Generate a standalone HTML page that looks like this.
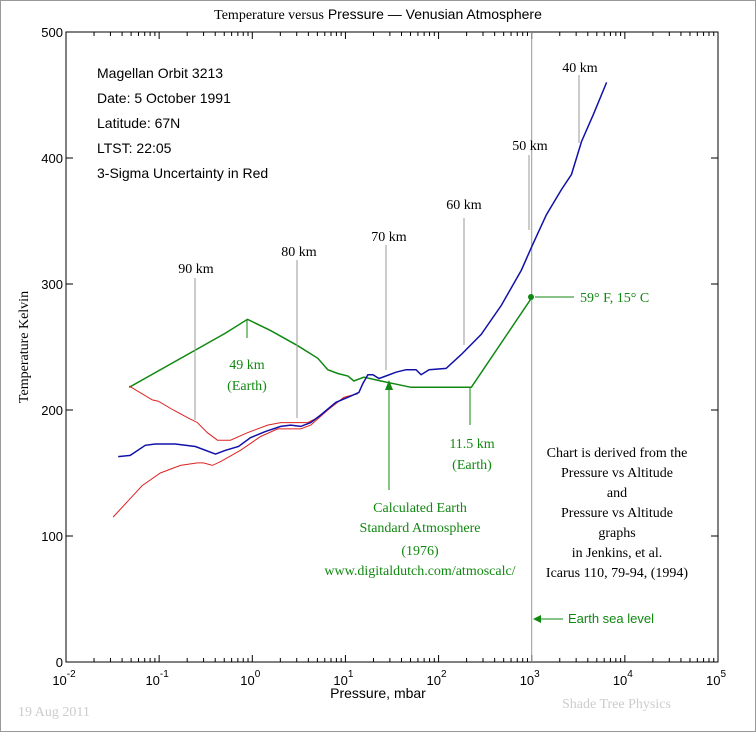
<!DOCTYPE html>
<html><head><meta charset="utf-8">
<style>
body{margin:0;background:#fff;}
svg{display:block;}
text{font-family:"Liberation Sans",sans-serif;}
.serif{font-family:"Liberation Serif",serif;}
</style></head>
<body>
<svg id="chart" width="756" height="732" viewBox="0 0 756 732">
<rect x="0.5" y="0.5" width="755" height="731" fill="#fff" stroke="#999"/>
<g id="grid"></g>
<g id="series"></g>
<g id="annot"></g>
</svg>
<script>
const logP_blue=[-1.44,-1.311,-1.149,-1.042,-0.826,-0.611,-0.395,-0.288,-0.148,-0.019,0.143,0.305,0.412,0.520,0.628,0.735,0.897,1.058,1.145,1.188,1.241,1.295,1.360,1.435,1.543,1.651,1.758,1.812,1.898,2.081,2.243,2.458,2.674,2.889,3.008,3.158,3.320,3.427,3.535,3.664,3.804];
const T_blue=[163,164,172,173,173,171,165,168,171,178,183,187,188,187,190,196,206,211,214,221,228,228,225,227,230,232,232,228,232,233,244,260,283,311,331,355,375,387,413,435,460];
const logP_redUp=[-1.322,-1.074,-1.009,-0.848,-0.697,-0.589,-0.482,-0.374,-0.234,-0.051,0.164,0.305,0.444,0.595,0.703,0.843,0.983,1.134];
const T_redUp=[219,208,207,200,194,190,182,176,176,182,188,190,190,190,194,202,210,213];
const logP_redLo=[-1.494,-1.182,-0.988,-0.772,-0.589,-0.525,-0.428,-0.342,-0.126,0.089,0.272,0.520,0.628,0.811,0.983,1.134];
const T_redLo=[115,140,150,156,158,158,156,159,168,179,185,185,188,200,210,213];
const logP_green=[-1.322,-0.288,-0.051,0.197,0.488,0.703,0.811,0.918,1.026,1.091,1.198,1.381,1.704,2.351,3.008];
const T_green=[218,261,272,263,251,241,232,229,227,223,226,223,218,218,290];
const xTickExp=[-2,-1,0,1,2,3,4,5];
const yTicks=[0,100,200,300,400,500];

const L=66,R=718,TOP=32,BOT=662;
const xs=lp=>L+(lp+2)*(R-L)/7;
const ys=t=>BOT-(t/500)*(BOT-TOP);
const NS="http://www.w3.org/2000/svg";
function mk(tag,parent,attrs){const e=document.createElementNS(NS,tag);for(const k in attrs)e.setAttribute(k,attrs[k]);parent.appendChild(e);return e;}
const grid=document.getElementById('grid'),ser=document.getElementById('series'),an=document.getElementById('annot');

let fr=mk('rect',grid,{x:L,y:TOP,width:R-L,height:BOT-TOP,fill:'none',stroke:'#000','stroke-width':1});


// x ticks
xTickExp.forEach(e=>{
  const x=xs(e);
  mk('line',grid,{x1:x,x2:x,y1:BOT,y2:BOT-7,stroke:'#000'});
  mk('line',grid,{x1:x,x2:x,y1:TOP,y2:TOP+7,stroke:'#000'});
  if(e<5){for(let m=2;m<10;m++){const xm=xs(e+Math.log10(m));
    mk('line',grid,{x1:xm,x2:xm,y1:BOT,y2:BOT-4,stroke:'#000'});
    mk('line',grid,{x1:xm,x2:xm,y1:TOP,y2:TOP+4,stroke:'#000'});}}
  const t=mk('text',grid,{x:x-2,y:BOT+23,'font-size':13,'text-anchor':'middle'});
  
  
  t.textContent='10';
  const s=mk('tspan',t,{dy:-8,'font-size':10});s.textContent=String(e);
});
yTicks.forEach(v=>{
  const y=ys(v);
  mk('line',grid,{x1:L,x2:L+7,y1:y,y2:y,stroke:'#000'});
  mk('line',grid,{x1:R,x2:R-7,y1:y,y2:y,stroke:'#000'});
  const t=mk('text',grid,{x:L-3,y:y+5,'font-size':13,'text-anchor':'end'});
  
  
  t.textContent=String(v);
});
// sea level line
let sl=mk('line',grid,{x1:xs(3),x2:xs(3),y1:TOP,y2:BOT,stroke:'#999'});



function line(lp,T,color,name,w){
  const d=lp.map((v,i)=>(i?'L':'M')+xs(v).toFixed(1)+','+ys(T[i]).toFixed(1)).join('');
  const p=mk('path',ser,{d:d,fill:'none',stroke:color,'stroke-width':w});
  
  
}
line(logP_green,T_green,'#118811','earth-standard-atmosphere-line',1.5);
line(logP_redUp,T_redUp,'#dd2222','upper-uncertainty-line',1);
line(logP_redLo,T_redLo,'#dd2222','lower-uncertainty-line',1);
line(logP_blue,T_blue,'#1111aa','venus-temperature-line',1.5);
</script>
<svg width="756" height="732" style="position:absolute;left:0;top:0">
<text x="378" y="19" text-anchor="middle" font-size="14"><tspan class="serif">Temperature versus</tspan> Pressure — Venusian Atmosphere</text>
<text x="28" y="347" transform="rotate(-90 28 347)" text-anchor="middle" font-size="14" class="serif">Temperature Kelvin</text>
<text x="378" y="698" text-anchor="middle" font-size="14">Pressure, mbar</text>
<text x="18" y="716" font-size="14" class="serif" fill="#ccc">19 Aug 2011</text>
<text x="562" y="708" font-size="14" class="serif" fill="#ccc">Shade Tree Physics</text>
<g font-size="14" fill="#000">
<text x="97" y="78">Magellan Orbit 3213</text>
<text x="97" y="103">Date: 5 October 1991</text>
<text x="97" y="128">Latitude: 67N</text>
<text x="97" y="153">LTST: 22:05</text>
<text x="97" y="178">3-Sigma Uncertainty in Red</text>
</g>
<g stroke="#999">
<line x1="195" y1="278" x2="195" y2="420"/>
<line x1="297" y1="260" x2="297" y2="418"/>
<line x1="386" y1="245" x2="386" y2="370"/>
<line x1="464" y1="218" x2="464" y2="345"/>
<line x1="529" y1="155" x2="529" y2="230"/>
<line x1="579" y1="75" x2="579" y2="143"/>
</g>
<g font-size="14" class="serif" text-anchor="middle">
<text x="196" y="273" class="serif">90 km</text>
<text x="299" y="256" class="serif">80 km</text>
<text x="389" y="241" class="serif">70 km</text>
<text x="464" y="209" class="serif">60 km</text>
<text x="530" y="150" class="serif">50 km</text>
<text x="580" y="72" class="serif">40 km</text>
</g>
<g fill="#118811" stroke="none" font-size="14" text-anchor="middle">
<line x1="247" y1="320" x2="247" y2="338" stroke="#118811"/>
<text x="247" y="369" class="serif">49 km</text>
<text x="247" y="390" class="serif">(Earth)</text>
<line x1="470" y1="388" x2="470" y2="425" stroke="#118811"/>
<text x="472" y="448" class="serif">11.5 km</text>
<text x="472" y="469" class="serif">(Earth)</text>
<line x1="389" y1="490" x2="389" y2="388" stroke="#118811"/>
<polygon points="389,380 385,390 393,390"/>
<text x="420" y="512" class="serif">Calculated Earth</text>
<text x="420" y="532" class="serif">Standard Atmosphere</text>
<text x="420" y="555" class="serif">(1976)</text>
<text x="420" y="575" class="serif">www.digitaldutch.com/atmoscalc/</text>
<circle cx="531" cy="297" r="3"/>
<line x1="535" y1="297" x2="574" y2="297" stroke="#118811"/>
<text x="580" y="302" text-anchor="start" class="serif">59° F, 15° C</text>
<line x1="540" y1="619" x2="563" y2="619" stroke="#118811"/>
<polygon points="533,619 541,615 541,623"/>
<text x="568" y="623" text-anchor="start" font-size="13" style="font-family:'Liberation Sans',sans-serif">Earth sea level</text>
</g>
<g font-size="14" class="serif" text-anchor="middle">
<text x="617" y="457" class="serif">Chart is derived from the</text>
<text x="617" y="477" class="serif">Pressure vs Altitude</text>
<text x="617" y="497" class="serif">and</text>
<text x="617" y="517" class="serif">Pressure vs Altitude</text>
<text x="617" y="537" class="serif">graphs</text>
<text x="617" y="557" class="serif">in Jenkins, et al.</text>
<text x="617" y="577" class="serif">Icarus 110, 79-94, (1994)</text>
</g>
</svg>
</body></html>
